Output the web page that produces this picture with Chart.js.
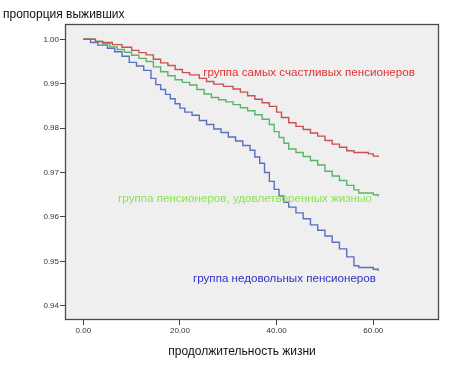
<!DOCTYPE html>
<html>
<head>
<meta charset="utf-8">
<script src="https://cdn.jsdelivr.net/npm/chart.js@4/dist/chart.umd.min.js"></script>
<style>
html,body{margin:0;padding:0;background:#fff;}
#wrap{width:463px;height:366px;position:relative;}
</style>
</head>
<body>
<div id="wrap"><canvas id="c" width="463" height="366"></canvas></div>
<script>
// ---- data ----
const seriesNames = ["группа самых счастливых пенсионеров", "группа пенсионеров, удовлетворенных жизнью", "группа недовольных пенсионеров"];
const yTickValues = [0.94, 0.95, 0.96, 0.97, 0.98, 0.99, 1.00];
const xTickValues = [0, 20, 40, 60];
const xTitle = "продолжительность жизни";
const yTitle = "пропорция выживших";

const redTimes  = [0,2.5,4,6,8,10,11.5,13,14.5,16,17.5,19,20.5,22,24,25.5,27,29,31,32.5,34,35.5,37,38.5,40,41,42.5,44,45.5,47,48.5,50,51.5,53,54.5,56,59,60,61];
const redValues = [1.0000,0.9995,0.9993,0.9988,0.9982,0.9975,0.9970,0.9965,0.9955,0.9947,0.9941,0.9932,0.9925,0.9920,0.9912,0.9905,0.9899,0.9894,0.9888,0.9881,0.9873,0.9865,0.9857,0.9849,0.9836,0.9824,0.9812,0.9804,0.9797,0.9789,0.9782,0.9772,0.9764,0.9757,0.9749,0.9745,0.9742,0.9737,0.9735];

const greenTimes  = [0,2.5,4,5.5,7,8.5,10,11.5,13,14.5,16,17.5,19,20.5,22,23.5,25,26.5,28,29.5,31,32.5,34,35.5,37,38.5,39.5,40.5,41.5,42.5,44,45.5,47,48.5,50,51.5,53,54.5,56,57,60,61];
const greenValues = [1.0000,0.9995,0.9990,0.9983,0.9977,0.9971,0.9964,0.9957,0.9950,0.9938,0.9927,0.9918,0.9909,0.9903,0.9897,0.9887,0.9877,0.9869,0.9864,0.9859,0.9853,0.9846,0.9839,0.9830,0.9820,0.9808,0.9792,0.9779,0.9766,0.9753,0.9745,0.9736,0.9727,0.9717,0.9703,0.9692,0.9682,0.9671,0.9661,0.9654,0.9650,0.9646];

const blueTimes  = [0,1.5,3,5,6.5,8,9.5,11,12.5,14,15,16,17,18,19,20,21,22.5,24,25.5,27,28.5,30,31.5,33,34.5,35.5,36.5,37.5,38.5,39.5,40.5,41.5,42.5,44,45.5,47,48.5,50,51.5,53,54.5,56,57,60,61];
const blueValues = [1.0000,0.9993,0.9987,0.9980,0.9972,0.9962,0.9948,0.9940,0.9930,0.9912,0.9898,0.9887,0.9876,0.9866,0.9855,0.9845,0.9836,0.9829,0.9817,0.9808,0.9798,0.9790,0.9780,0.9771,0.9761,0.9750,0.9735,0.9721,0.9700,0.9680,0.9662,0.9647,0.9633,0.9622,0.9609,0.9596,0.9582,0.9570,0.9557,0.9543,0.9528,0.9510,0.9490,0.9486,0.9482,0.9478];

// ---- styles / layout ----
const FONT = "'Liberation Sans', Arial, sans-serif";
const lineColors = ["rgb(200,82,82)", "rgb(88,182,108)", "rgb(92,112,192)"];
const labelColors = ["rgb(228,48,48)", "rgb(140,226,80)", "rgb(48,48,200)"];
const labelAnchors = [{x:24.8, y:0.99241}, {x:7.2, y:0.96403}, {x:22.7, y:0.94601}];

function pts(t, v){ return t.map((x,i)=>({x:x, y:v[i]})); }

const decor = {
  id:'decor',
  beforeDatasetsDraw(chart){
    const {ctx, chartArea:a} = chart;
    ctx.save();
    ctx.fillStyle = '#efefef';
    ctx.fillRect(a.left, a.top, a.right-a.left, a.bottom-a.top);
    ctx.restore();
  },
  afterDatasetsDraw(chart){
    const {ctx, chartArea:a, scales} = chart;
    ctx.save();
    ctx.strokeStyle = '#4a4a4a';
    ctx.lineWidth = 1.3;
    ctx.strokeRect(a.left+0.5, a.top+0.5, a.right-a.left-1, a.bottom-a.top-1);
    ctx.font = "11.6px " + FONT;
    ctx.textBaseline = 'middle';
    ctx.textAlign = 'left';
    seriesNames.forEach((n,i)=>{
      ctx.fillStyle = labelColors[i];
      ctx.fillText(n, scales.x.getPixelForValue(labelAnchors[i].x), scales.y.getPixelForValue(labelAnchors[i].y));
    });
    ctx.fillStyle = '#111';
    ctx.font = "12px " + FONT;
    ctx.fillText(yTitle, 3, 15);
    ctx.textAlign = 'center';
    ctx.fillText(xTitle, 242, 352);
    ctx.restore();
  }
};

new Chart(document.getElementById('c'), {
  type:'line',
  data:{
    datasets:[
      {label:seriesNames[0], data:pts(redTimes, redValues), borderColor:lineColors[0]},
      {label:seriesNames[1], data:pts(greenTimes, greenValues), borderColor:lineColors[1]},
      {label:seriesNames[2], data:pts(blueTimes, blueValues), borderColor:lineColors[2]}
    ].map(d=>Object.assign(d,{stepped:'before', borderWidth:1.4, pointRadius:0, fill:false, tension:0}))
  },
  options:{
    responsive:false,
    animation:false,
    events:[],
    layout:{padding:{left:0, top:24, right:24, bottom:0}},
    plugins:{legend:{display:false}, tooltip:{enabled:false}},
    scales:{
      x:{
        type:'linear', min:-3.79, max:73.6,
        afterBuildTicks(s){ s.ticks = xTickValues.map(v=>({value:v})); },
        afterFit(s){ s.height = 46; },
        border:{display:false},
        grid:{drawOnChartArea:false, drawTicks:true, tickLength:5, color:'#444', lineWidth:1},
        ticks:{color:'#333', font:{family:FONT, size:8}, padding:1, maxRotation:0, callback:v=>Number(v).toFixed(2)}
      },
      y:{
        type:'linear', min:0.93678, max:1.00345,
        afterBuildTicks(s){ s.ticks = yTickValues.map(v=>({value:v})); },
        afterFit(s){ s.width = 65; },
        border:{display:false},
        grid:{drawOnChartArea:false, drawTicks:true, tickLength:5, color:'#444', lineWidth:1},
        ticks:{color:'#333', font:{family:FONT, size:8}, padding:1, callback:v=>Number(v).toFixed(2)}
      }
    }
  },
  plugins:[decor]
});
</script>
</body>
</html>
